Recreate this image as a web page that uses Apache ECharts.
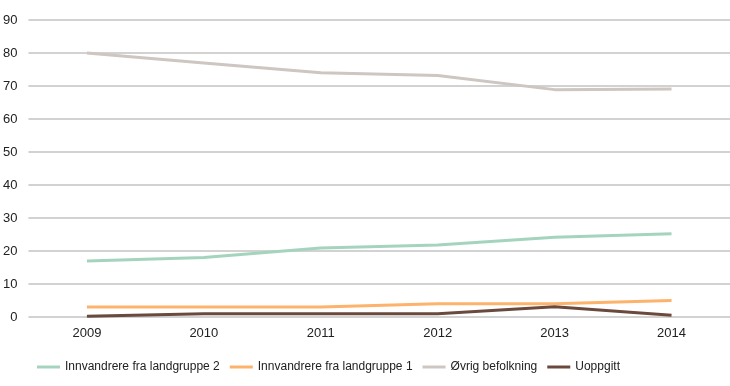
<!DOCTYPE html>
<html><head><meta charset="utf-8">
<script src="https://cdn.jsdelivr.net/npm/echarts@6/dist/echarts.min.js"></script>
<style>html,body{margin:0;padding:0;background:#fff}#c{width:730px;height:386px}</style>
</head><body><div id="c"></div>
<script>
const categories = ['2009','2010','2011','2012','2013','2014'];
const landgruppe2 = [17, 18, 20.9, 21.8, 24.2, 25.2];
const landgruppe1 = [3, 3, 3, 4, 4, 5];
const ovrig = [80, 77, 74, 73.2, 68.9, 69.1];
const uoppgitt = [0.2, 1, 1, 1, 3.1, 0.5];
const names = ['Innvandrere fra landgruppe 2','Innvandrere fra landgruppe 1','Øvrig befolkning','Uoppgitt'];
const colors = ['#a5d4be','#fdb36b','#cdc6c1','#6b4a3e'];
const chart = echarts.init(document.getElementById('c'));
const mk = (i, d) => ({name: names[i], type:'line', data:d, symbol:'none', lineStyle:{width:3, color:colors[i]}, itemStyle:{color:colors[i]}});
chart.setOption({
  animation:false,
  textStyle:{fontFamily:'Liberation Sans, Arial, sans-serif'},
  grid:{left:25, right:0, top:20, bottom:69},
  legend:{top:356, left:32, itemWidth:23, itemHeight:3, itemGap:10, icon:'rect',
    textStyle:{fontSize:12, color:'#222'}},
  xAxis:{type:'category', data:categories, boundaryGap:true,
    axisLine:{show:false}, axisTick:{show:false},
    axisLabel:{fontSize:13, color:'#222', margin:10}},
  yAxis:{type:'value', min:0, max:90, interval:10,
    axisLabel:{fontSize:13, color:'#222', margin:11},
    splitLine:{lineStyle:{color:'#c3c3c3', width:1.5}}},
  series:[mk(0,landgruppe2), mk(1,landgruppe1), mk(2,ovrig), mk(3,uoppgitt)]
});
</script></body></html>
